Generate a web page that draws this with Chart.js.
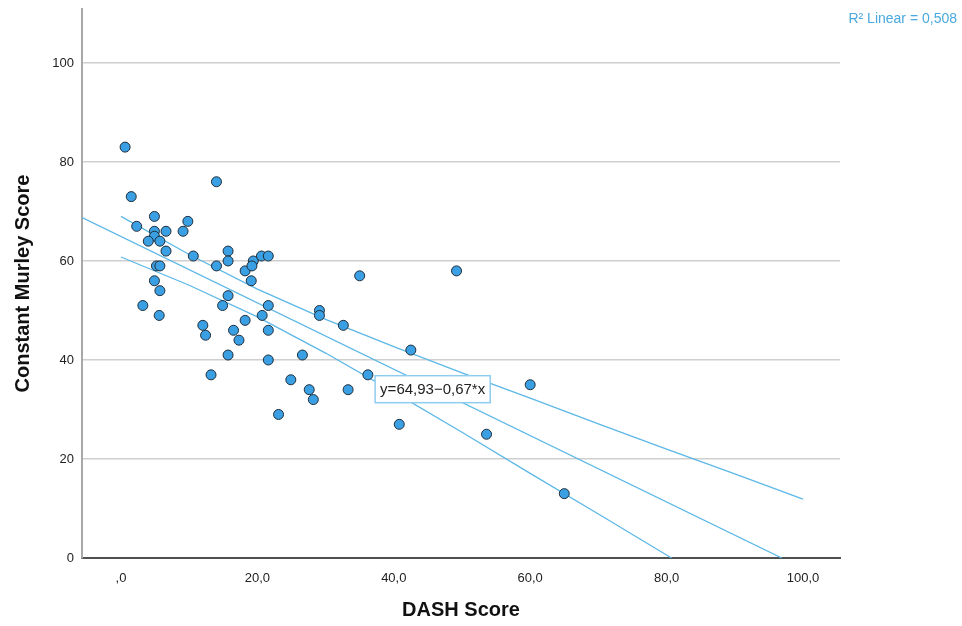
<!DOCTYPE html>
<html>
<head>
<meta charset="utf-8">
<title>Constant Murley Score vs DASH Score</title>
<script src="https://cdn.jsdelivr.net/npm/chart.js@4.4.1/dist/chart.umd.min.js"></script>
<style>
html, body { margin: 0; padding: 0; background: #fff; }
canvas { display: block; }
</style>
</head>
<body>
<canvas id="scatter-chart" width="962" height="626"></canvas>
<script>
var dashScore = [0.6, 1.5, 2.3, 4.9, 9.8, 4.9, 6.6, 9.1, 4.9, 4.0,
                 5.7, 6.6, 10.6, 5.2, 5.7, 4.9, 5.7, 3.2, 5.6, 14.0,
                 15.7, 15.7, 14.0, 19.4, 18.2, 19.2, 20.6, 21.6, 19.1, 15.7,
                 14.9, 21.6, 20.7, 12.0, 12.4, 16.5, 18.2, 17.3, 21.6, 15.7,
                 21.6, 13.2, 35.0, 29.1, 29.1, 32.6, 26.6, 24.9, 27.6, 28.2,
                 33.3, 23.1, 36.2, 49.2, 42.5, 60.0, 40.8, 53.6, 65.0];
var murleyScore = [83, 73, 67, 69, 68, 66, 66, 66, 65, 64,
                   64, 62, 61, 59, 59, 56, 54, 51, 49, 76,
                   62, 60, 59, 60, 58, 59, 61, 61, 56, 53,
                   51, 51, 49, 47, 45, 46, 48, 44, 46, 41,
                   40, 37, 57, 50, 49, 47, 41, 36, 34, 32,
                   34, 29, 37, 58, 42, 35, 27, 25, 13];

// fit line y = 64,93 - 0,67*x
var fitX = [-5.7, 96.9];
var fitY = [68.75, 0];

// confidence band
var upperX = [0, 10, 20, 30, 40, 50, 60, 70, 80, 90, 100];
var upperY = [69.0, 61.3, 54.3, 48.2, 42.7, 37.4, 32.3, 27.1, 22.0, 17.0, 11.9];
var lowerX = [0, 10, 20, 30, 40, 50, 60, 70, 80, 85];
var lowerY = [60.8, 55.1, 48.7, 41.4, 33.5, 25.4, 17.1, 8.9, 0.6, -3.6];

var xTicks = [0, 20, 40, 60, 80, 100];
var xTickLabels = [',0', '20,0', '40,0', '60,0', '80,0', '100,0'];
var yTicks = [0, 20, 40, 60, 80, 100];
var yTickLabels = ['0', '20', '40', '60', '80', '100'];

var fitLabel = 'y=64,93\u22120,67*x';
var r2Label = 'R\u00b2 Linear = 0,508';

function pairs(xs, ys) {
  return xs.map(function (x, i) { return { x: x, y: ys[i] }; });
}

var lineBlue = '#5db8e6';
var fontFam = '"Liberation Sans", Arial, sans-serif';

// the equation box and the R2 note
var notes = {
  id: 'notes',
  afterDatasetsDraw: function (chart) {
    var ctx = chart.ctx;
    var xs = chart.scales.x, ys = chart.scales.y;
    ctx.save();
    ctx.font = '15px ' + fontFam;
    var w = ctx.measureText(fitLabel).width + 10;
    var h = 27;
    var cx = xs.getPixelForValue(45.7);
    var cy = ys.getPixelForValue(34.1);
    ctx.fillStyle = '#fff';
    ctx.fillRect(cx - w / 2, cy - h / 2, w, h);
    ctx.strokeStyle = '#8fcdf0';
    ctx.lineWidth = 1.5;
    ctx.strokeRect(cx - w / 2, cy - h / 2, w, h);
    ctx.fillStyle = '#222';
    ctx.textAlign = 'center';
    ctx.textBaseline = 'middle';
    ctx.fillText(fitLabel, cx, cy + 1);

    ctx.font = '14px ' + fontFam;
    ctx.fillStyle = '#4aa9de';
    ctx.textAlign = 'right';
    ctx.fillText(r2Label, 957, 19);
    ctx.restore();
  }
};

new Chart(document.getElementById('scatter-chart'), {
  type: 'scatter',
  data: {
    datasets: [{
      data: pairs(dashScore, murleyScore),
      backgroundColor: '#3ba0e3',
      borderColor: '#1f2d3a',
      borderWidth: 1,
      pointRadius: 5
    }, {
      data: pairs(fitX, fitY),
      showLine: true,
      borderColor: lineBlue,
      borderWidth: 1.3,
      pointRadius: 0
    }, {
      data: pairs(upperX, upperY),
      showLine: true,
      borderColor: lineBlue,
      borderWidth: 1.3,
      pointRadius: 0
    }, {
      data: pairs(lowerX, lowerY),
      showLine: true,
      borderColor: lineBlue,
      borderWidth: 1.3,
      pointRadius: 0
    }]
  },
  options: {
    responsive: false,
    animation: false,
    devicePixelRatio: 1,
    layout: { padding: { left: 0, top: 9, right: 122, bottom: 0 } },
    plugins: {
      legend: { display: false },
      tooltip: { enabled: false }
    },
    scales: {
      x: {
        type: 'linear',
        min: -5.72,
        max: 105.43,
        afterBuildTicks: function (s) { s.ticks = xTicks.map(function (v) { return { value: v }; }); },
        afterFit: function (s) { s.height = 68; s.paddingLeft = 0; s.paddingRight = 0; },
        grid: { display: false, drawTicks: false },
        border: { display: true, color: '#505050', width: 2 },
        ticks: {
          padding: 13,
          color: '#222',
          font: { family: fontFam, size: 13 },
          callback: function (v) { return xTickLabels[xTicks.indexOf(v)]; }
        },
        title: {
          display: true,
          text: 'DASH Score',
          color: '#111',
          font: { family: fontFam, size: 20, weight: 'bold' },
          padding: { top: 0, bottom: 4 }
        }
      },
      y: {
        type: 'linear',
        min: 0,
        max: 110.9,
        afterBuildTicks: function (s) { s.ticks = yTicks.map(function (v) { return { value: v }; }); },
        afterFit: function (s) { s.width = 82; s.paddingTop = 0; s.paddingBottom = 0; },
        grid: {
          drawTicks: false,
          lineWidth: 1.5,
          color: function (c) { return c.tick && c.tick.value === 0 ? 'rgba(0,0,0,0)' : '#cfcfcf'; }
        },
        border: { display: true, color: '#a8a8a8', width: 2 },
        ticks: {
          padding: 8,
          color: '#222',
          font: { family: fontFam, size: 13 },
          callback: function (v) { return yTickLabels[yTicks.indexOf(v)]; }
        },
        title: {
          display: true,
          text: 'Constant Murley Score',
          color: '#111',
          font: { family: fontFam, size: 20, weight: 'bold' },
          padding: { top: 11, bottom: 0 }
        }
      }
    }
  },
  plugins: [notes]
});
</script>
</body>
</html>
